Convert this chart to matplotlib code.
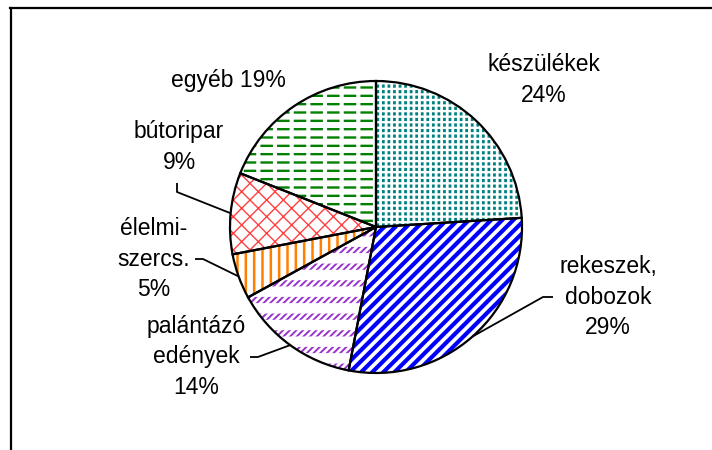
import numpy as np
import matplotlib
matplotlib.use("Agg")
import matplotlib.pyplot as plt
from matplotlib.lines import Line2D

plt.rcParams['font.family'] = ['Liberation Sans', 'DejaVu Sans']

categories = ["készülékek", "rekeszek,\ndobozok", "palántázó\nedények",
              "élelmi-\nszercs.", "bútoripar", "egyéb"]
values = [24, 29, 14, 5, 9, 19]
colors = ["#008080", "#0000FF", "#9933CC", "#FF8000", "#FF4040", "#008000"]
hatches = ["---", "///", "/////", "||", "xx", "--"]
hatch_lw = [2.3, 3.0, 1.4, 1.8, 1.0, 1.7]
# white breaker hatches to turn solid hatch lines into dashes / dots
breakers = ["|||", None, "-", None, None, "|"]
breaker_lw = [2.0, 0, 7.5, 0, 0, 3.0]

W, H = 712, 450
cx, cy, R = 376, 227, 146  # pixel layout of the pie

fig = plt.figure(figsize=(W / 100, H / 100), dpi=100)
ax = fig.add_axes([0, 0, 1, 1])
ax.set_aspect('equal')
ax.axis('off')

def px(x, y):
    return (x - cx) / R, (cy - y) / R

def set_hlw(w, lw):
    if hasattr(w, "set_hatch_linewidth"):
        w.set_hatch_linewidth(lw)
    else:
        w._hatch_linewidth = lw

# hatched fills
wedges, _ = ax.pie(values, startangle=90, counterclock=False, radius=1,
                   center=(0, 0), frame=False, wedgeprops=dict(linewidth=0))
for w, c, h, lw in zip(wedges, colors, hatches, hatch_lw):
    w.set_facecolor("white")
    w.set_edgecolor(c)
    w.set_hatch(h)
    set_hlw(w, lw)
# breakers
wedges_b, _ = ax.pie(values, startangle=90, counterclock=False, radius=1,
                     center=(0, 0), frame=False, wedgeprops=dict(linewidth=0))
for w, h, lw in zip(wedges_b, breakers, breaker_lw):
    w.set_fill(False)
    if h is None:
        w.set_visible(False)
        continue
    w.set_edgecolor("white")
    w.set_hatch(h)
    set_hlw(w, lw)
# black outlines
ax.pie(values, startangle=90, counterclock=False, radius=1, center=(0, 0),
       frame=False, wedgeprops=dict(linewidth=1.6, edgecolor="black", fill=False))
ax.set_xlim(-cx / R, (W - cx) / R)
ax.set_ylim(-(H - cy) / R, cy / R)

pct = [f"{v}%" for v in values]
labels = [
    categories[0] + "\n" + pct[0],
    categories[1] + "\n" + pct[1],
    categories[2] + "\n" + pct[2],
    categories[3] + "\n" + pct[3],
    categories[4] + "\n" + pct[4],
    categories[5] + " " + pct[5],
]
text_pos = [(544, 80), (608, 297), (196, 357), (154, 259), (179, 147), (228, 80)]
for lab, (x, y) in zip(labels, text_pos):
    ax.text(*px(x, y), lab, ha='center', va='center', fontsize=16.5,
            linespacing=1.4, color='black')

# leader lines: text end -> elbow -> wedge edge (mid-angle)
elbows = {
    1: [(553, 297), (543, 297)],
    2: [(250, 357), (258, 357)],
    3: [(195, 259), (203, 259)],
    4: [(177, 183), (177, 192)],
}
cum = np.cumsum([0] + values)
total = sum(values)
for i, pts in elbows.items():
    mid = 90 - 360 * (cum[i] + values[i] / 2) / total
    ex, ey = np.cos(np.radians(mid)), np.sin(np.radians(mid))
    xs = [px(*p)[0] for p in pts] + [ex]
    ys = [px(*p)[1] for p in pts] + [ey]
    ax.plot(xs, ys, color='black', lw=1.3, solid_capstyle='butt')

# outer frame (only left and top visible)
fig.add_artist(Line2D([10.5 / W, 10.5 / W], [0, 1 - 7.5 / H], color='black', lw=1.6,
                      transform=fig.transFigure))
fig.add_artist(Line2D([10 / W, 1], [1 - 7.5 / H, 1 - 7.5 / H], color='black', lw=1.6,
                      transform=fig.transFigure))

fig.savefig("out.png", dpi=100)
